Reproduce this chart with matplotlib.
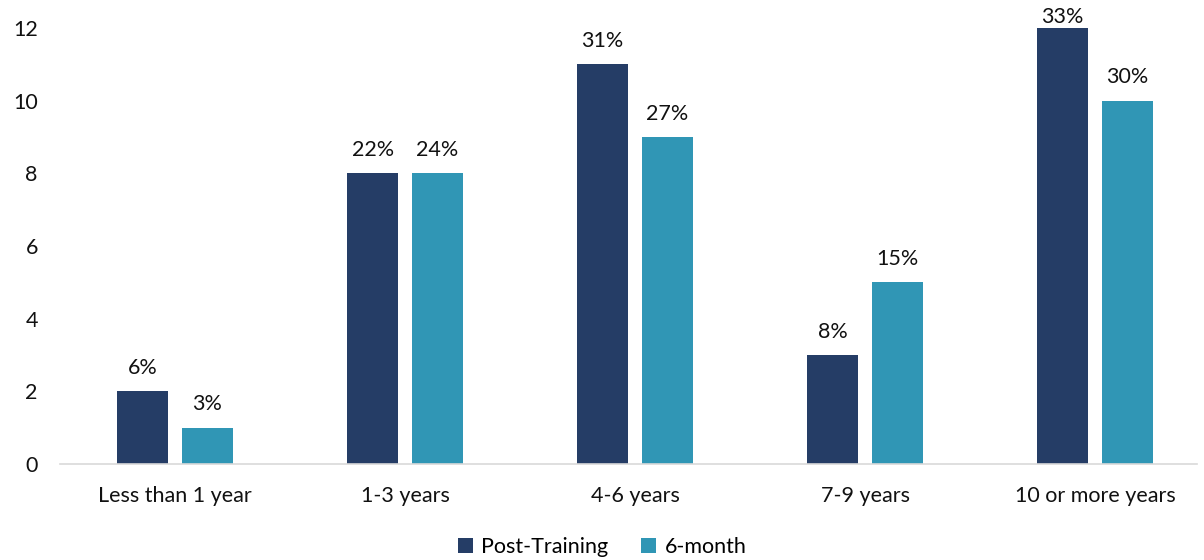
import matplotlib.pyplot as plt
import numpy as np

plt.rcParams['font.family'] = ['Lato', 'DejaVu Sans']

categories = ['Less than 1 year', '1-3 years', '4-6 years', '7-9 years', '10 or more years']
post_training = [2, 8, 11, 3, 12]
six_month = [1, 8, 9, 5, 10]
post_labels = ['6%', '22%', '31%', '8%', '33%']
six_labels = ['3%', '24%', '27%', '15%', '30%']

dark = '#253D66'
teal = '#3096B5'
fs = 15.5
ymax = 12

fig = plt.figure(figsize=(12.04, 5.6), dpi=100)
ax = fig.add_axes([60 / 1204, 1 - 464 / 560, 1137 / 1204, (464 - 28) / 560])

x = np.arange(len(categories))
w = 0.222
off = 0.141
b1 = ax.bar(x - off, post_training, w, color=dark, label='Post-Training')
b2 = ax.bar(x + off, six_month, w, color=teal, label='6-month')

for bars, labs in ((b1, post_labels), (b2, six_labels)):
    for b, lab in zip(bars, labs):
        h = b.get_height()
        # labels at the top of the axis get squeezed down like Excel does
        dy = 1 if h >= ymax else 9.5
        ax.annotate(lab, (b.get_x() + b.get_width() / 2, h),
                    xytext=(0, dy), textcoords='offset points',
                    ha='center', va='bottom', fontsize=fs, color='#111111')

ax.set_xlim(-0.5, -0.5 + 1137 / 230)
ax.set_ylim(0, ymax)
ax.set_yticks(range(0, 13, 2))
ax.set_xticks(x)
ax.set_xticklabels(categories)
ax.tick_params(axis='both', length=0, labelsize=fs, colors='#111111')
ax.tick_params(axis='x', pad=16)
ax.tick_params(axis='y', pad=16)
for s in ['top', 'right', 'left']:
    ax.spines[s].set_visible(False)
ax.spines['bottom'].set_color('#d9d9d9')
ax.spines['bottom'].set_linewidth(1.2)

fig.legend(loc='lower center', bbox_to_anchor=(0.5, -0.03), ncol=2, frameon=False,
           fontsize=fs, handlelength=0.7, handleheight=0.7, handletextpad=0.4,
           columnspacing=1.5)

fig.savefig('out.png', dpi=100)
